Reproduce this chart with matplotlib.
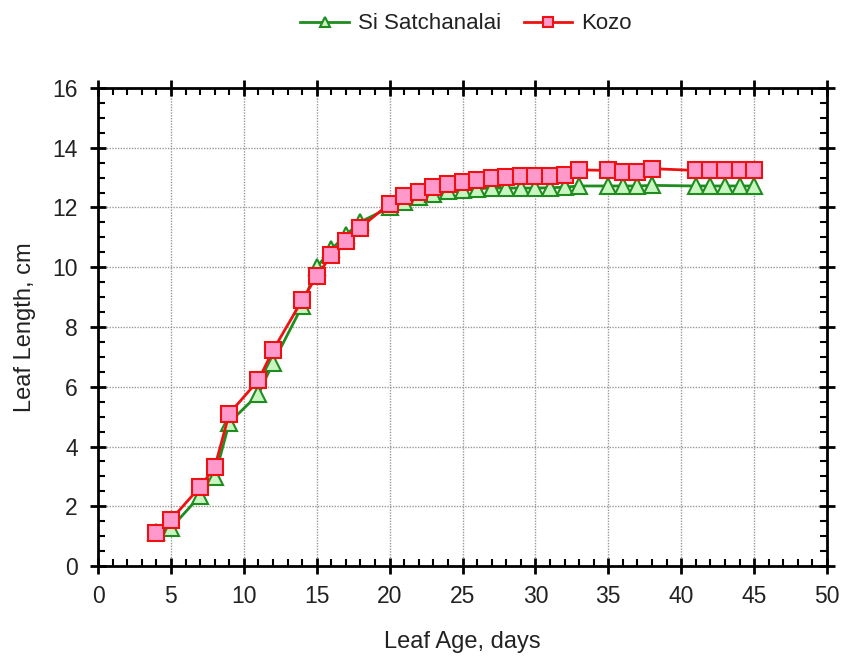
import matplotlib
matplotlib.use("Agg")
import matplotlib.pyplot as plt
from matplotlib.ticker import MultipleLocator

plt.rcParams['font.family'] = ['Liberation Sans', 'DejaVu Sans']

days = [4, 5, 7, 8, 9, 11, 12, 14, 15, 16, 17, 18, 20, 21, 22, 23, 24, 25, 26, 27, 28,
        29, 30, 31, 32, 33, 35, 36, 37, 38, 41, 42, 43, 44, 45]
si_satchanalai = [1.15, 1.27, 2.35, 2.97, 4.8, 5.75, 6.8, 8.7, 10.0, 10.6, 11.08, 11.52,
                  12.0, 12.2, 12.35, 12.45, 12.55, 12.6, 12.63, 12.65, 12.65, 12.65, 12.65,
                  12.66, 12.68, 12.72, 12.72, 12.72, 12.72, 12.74, 12.72, 12.72, 12.72, 12.72, 12.72]
kozo = [1.1, 1.55, 2.65, 3.3, 5.1, 6.22, 7.22, 8.9, 9.7, 10.4, 10.89, 11.33, 12.13, 12.38,
        12.52, 12.68, 12.8, 12.86, 12.92, 13.0, 13.03, 13.05, 13.05, 13.06, 13.1, 13.26,
        13.24, 13.2, 13.2, 13.3, 13.24, 13.24, 13.24, 13.24, 13.24]

fig = plt.figure(figsize=(8.43, 6.59), dpi=100)
ax = fig.add_axes([0.1163, 0.1411, 0.8647, 0.7254])

ax.plot(days, si_satchanalai, color='#1f8c1f', lw=2, marker='^', ms=11,
        mfc='#c8f5c0', mec='#1f8c1f', mew=1.5, label='Si Satchanalai', zorder=3)
ax.plot(days, kozo, color='#ee1111', lw=2, marker='s', ms=11,
        mfc='#ff99cc', mec='#ee1111', mew=1.5, label='Kozo', zorder=4)

ax.set_xlim(0, 50)
ax.set_ylim(0, 16)
ax.xaxis.set_major_locator(MultipleLocator(5))
ax.xaxis.set_minor_locator(MultipleLocator(1))
ax.yaxis.set_major_locator(MultipleLocator(2))
ax.yaxis.set_minor_locator(MultipleLocator(0.5))
ax.tick_params(which='major', direction='inout', length=11, width=2,
               top=True, right=True, labelsize=16.5, labelcolor='#222222')
ax.tick_params(axis='x', which='major', pad=8)
ax.tick_params(axis='y', which='major', pad=9)
ax.tick_params(which='minor', direction='in', length=5, width=1.5, top=True, right=True)
for s in ax.spines.values():
    s.set_linewidth(2)
ax.grid(True, which='major', color='#999999', linestyle=(0, (1, 1)), linewidth=1)
ax.set_axisbelow(True)

ax.set_xlabel('Leaf Age, days', fontsize=17, labelpad=17, color='#222222')
ax.set_ylabel('Leaf Length, cm', fontsize=17, labelpad=12, color='#222222')

leg = fig.legend(loc='upper center', bbox_to_anchor=(0.553, 1.01), ncol=2, frameon=False,
                 fontsize=16, markerscale=0.6, handlelength=2.2, columnspacing=1.0,
                 handletextpad=0.4)
for t in leg.get_texts():
    t.set_color('#222222')

fig.savefig('out.png', dpi=100)
